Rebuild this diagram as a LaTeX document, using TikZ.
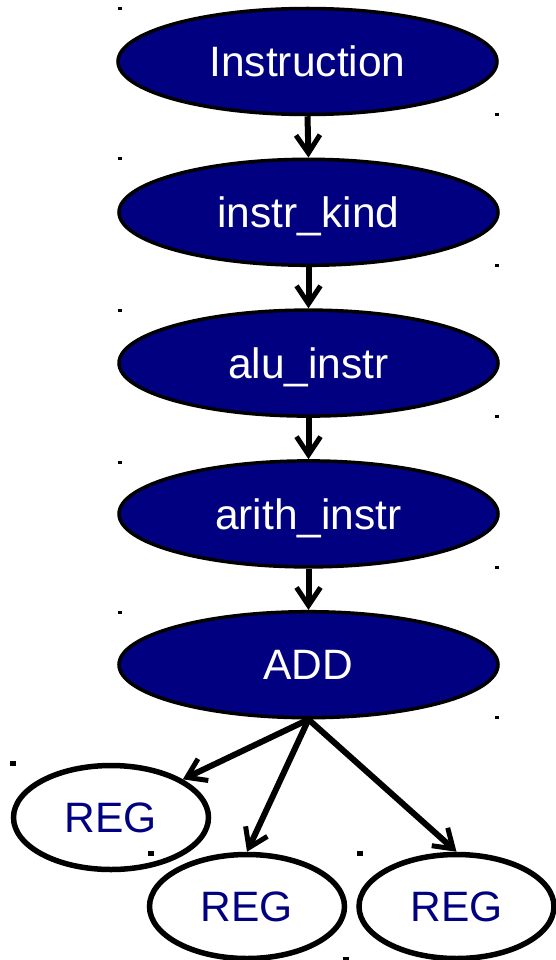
\documentclass[tikz,border=0pt]{standalone}
\usepackage{fontspec}
\setmainfont{Liberation Sans}
\usetikzlibrary{shapes.geometric,arrows.meta}
\definecolor{navy}{HTML}{000080}
\tikzset{
  kind/.style={ellipse, draw=black, line width=3.5pt, fill=navy, text=white,
    minimum width=379pt, minimum height=106pt, inner sep=0pt,
    text depth=0pt, font=\fontsize{42.5}{42.5}\selectfont},
  regnode/.style={ellipse, draw=black, line width=5.5pt, fill=white, text=navy,
    minimum width=195pt, minimum height=104pt, inner sep=0pt,
    text depth=0pt, font=\fontsize{42.5}{42.5}\selectfont},
  link/.style={line width=6pt, -{Straight Barb[length=18pt,width=24pt,line width=5pt]}},
  handle/.style={fill=black, draw=none}
}
\begin{document}
\begin{tikzpicture}[x=1pt,y=-1pt]
  \useasboundingbox (0,0) rectangle (556,960);

  % class hierarchy
  \node[kind] (instr) at (307.5,61.5)  {Instruction};
  \node[kind] (kindn) at (308.5,212.3) {instr\_kind};
  \node[kind] (alu)   at (308.5,363.1) {alu\_instr};
  \node[kind] (arith) at (308.5,513.9) {arith\_instr};
  \node[kind] (add)   at (308.5,664.7) {ADD};

  % operands
  \node[regnode] (reg1) at (111,817.5)  {REG};
  \node[regnode] (reg2) at (247,906.5)  {REG};
  \node[regnode] (reg3) at (456.5,906.5) {REG};

  % edges
  \draw[link] (instr.south) -- (kindn.north);
  \draw[link] (kindn.south) -- (alu.north);
  \draw[link] (alu.south)   -- (arith.north);
  \draw[link] (arith.south) -- (add.north);
  \draw[link] (add.south) -- (reg1.28);
  \draw[link] (add.south) -- (reg2.north);
  \draw[link] (add.south) -- (reg3.north);

  % selection handles
  \foreach \x/\y in {118/7, 118/157, 118/309, 118/461, 118/611,
                     495/113, 495/264, 495/415, 495/566, 495/716} {
    \fill[handle] (\x,\y) rectangle ++(4,3);
  }
  \foreach \x/\y in {10/761, 148/851, 357/851} {
    \fill[handle] (\x,\y) rectangle ++(6,5);
  }
  \fill[handle] (343,957) rectangle ++(6,3);
\end{tikzpicture}
\end{document}
